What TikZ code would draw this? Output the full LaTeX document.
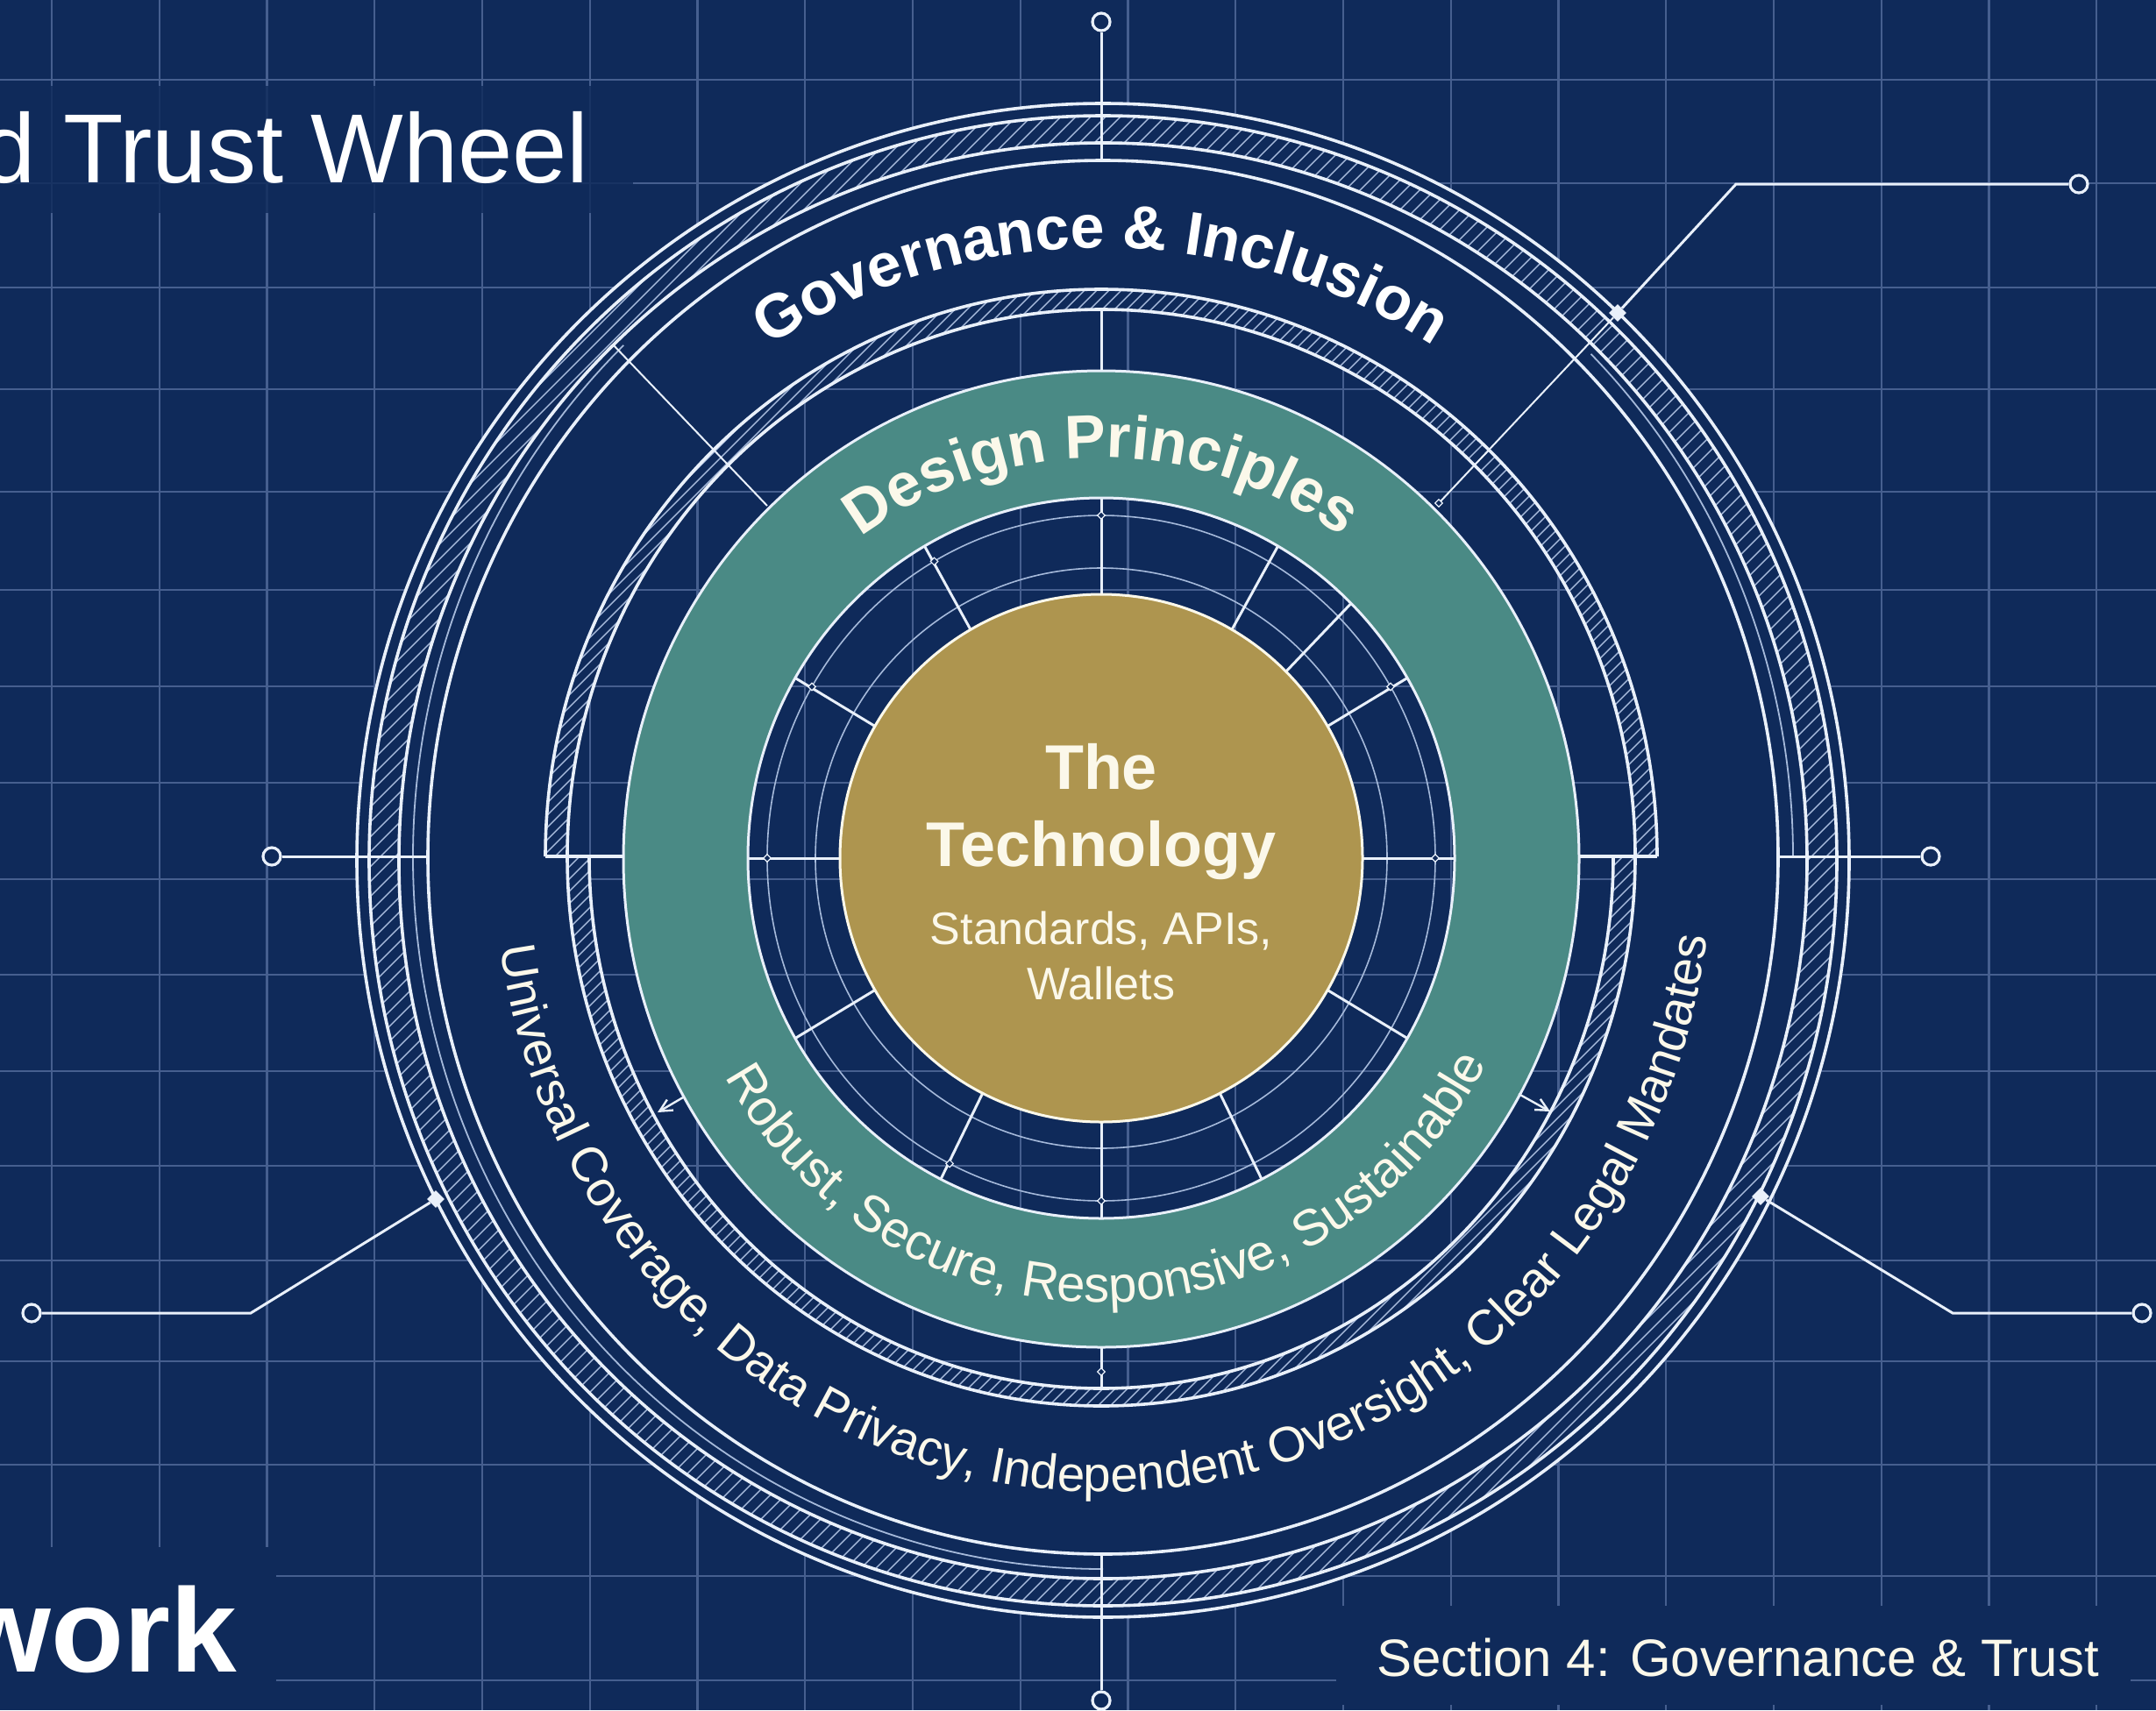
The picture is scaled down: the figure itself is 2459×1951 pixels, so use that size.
\documentclass[tikz,border=0pt]{standalone}
\usepackage{fontspec}
\setmainfont{Liberation Sans}
\usetikzlibrary{calc,decorations.text,shapes.geometric,arrows.meta}
\definecolor{navy}{HTML}{0F2A5A}
\definecolor{gridc}{HTML}{465F8F}
\definecolor{ringc}{HTML}{E9F0FA}
\definecolor{hatchc}{HTML}{A5B9DA}
\definecolor{tealc}{HTML}{4A8A85}
\definecolor{goldc}{HTML}{AE954F}
\definecolor{creamc}{HTML}{FBF8EA}
\newcommand{\fs}[1]{\fontsize{#1}{#1}\selectfont}
\newcommand{\ringhatch}[7]{%
  \begin{scope}[even odd rule]
  \clip (#1,#2) ellipse[x radius=#3,y radius=#4] (#1,#2) ellipse[x radius=#5,y radius=#6];
  \path[hatchline] \foreach \k in {-2000,#7,...,3600}{(\k,-2000) -- ++(2100,2100)};
  \end{scope}
}
\tikzset{
  gridline/.style={gridc,line width=2.2pt},
  ringthick/.style={ringc,line width=3.6pt},
  ringthin/.style={hatchc,line width=1.8pt},
  hatchline/.style={draw=hatchc,line width=1.4pt},
  spokeline/.style={ringc,line width=3pt},
  thinspoke/.style={ringc,line width=2pt},
  leaderline/.style={ringc,line width=3pt},
  terminal/.style={circle,draw=ringc,fill=navy,line width=3.2pt,minimum size=20pt,inner sep=0pt},
  endmark/.style={diamond,fill=ringc,minimum size=20pt,inner sep=0pt},
  tickmark/.style={diamond,draw=ringc,fill=navy,line width=1.2pt,minimum size=9pt,inner sep=0pt},
  arrowline/.style={ringc,line width=2.4pt,-{Straight Barb[length=14pt,width=14pt]}},
  label/.style={inner sep=0pt,text=creamc},
}
\begin{document}
\begin{tikzpicture}[x=1pt,y=1pt]
\useasboundingbox (0,0) rectangle (2459,-1951);
\fill[navy] (0,0) rectangle (2459,-1951);
% grid
\foreach \k in {0,...,19}{\draw[gridline] ({59+122.75*\k},0) -- ({59+122.75*\k},-1951);}
\foreach \y in {91,209,328,444,561,673,783,893,1003,1112,1222,1330,1438,1553,1671,1798,1917}{\draw[gridline] (0,-\y) -- (2459,-\y);}
% panels behind the page texts
\fill[navy,opacity=.82] (0,-98) rectangle (722,-243);
\fill[navy] (0,-1765) rectangle (315,-1951);
\fill[navy] (1524,-1832) rectangle (2430,-1945);
% centres
\coordinate (C) at (1256,-979);
% navy body of the outer wheel (grid stays visible inside the middle ring)
\fill[navy,even odd rule] (1258,-981.5) ellipse[x radius=851,y radius=863.5]
  (1865,-977) arc[start angle=0,end angle=180,x radius=609,y radius=627]
  -- (672,-977) arc[start angle=180,end angle=360,x radius=584,y radius=607] -- cycle;
% hatching
\ringhatch{1258}{-982}{837}{850}{803}{819}{-1983}
\begin{scope}\clip (0,-977) rectangle (2459,0);\ringhatch{1256}{-977}{634}{647}{609}{624}{-1986}\end{scope}
\begin{scope}\clip (0,-977) rectangle (2459,-1951);\ringhatch{1256}{-977}{609}{627}{584}{607}{-1986}\end{scope}
% outer rings
\draw[ringthick] (1258,-981.5) ellipse[x radius=851,y radius=863.5];
\draw[ringthick] (1258,-982) ellipse[x radius=837,y radius=850];
\draw[ringthick] (1258,-982) ellipse[x radius=803,y radius=819];
\draw[ringthick] (1258,-978) ellipse[x radius=770,y radius=795];
\draw[ringthin] (2045,-978) arc[start angle=0,end angle=45,x radius=787,y radius=812];
\draw[ringthin] ($(1258,-978)+(134:787 and 812)$) arc[start angle=134,end angle=270,x radius=787,y radius=812];
% middle hatched ring
\draw[ringthick] (1890,-977) arc[start angle=0,end angle=180,x radius=634,y radius=647];
\draw[ringthick] (1865,-977) arc[start angle=0,end angle=180,x radius=609,y radius=624];
\draw[ringthick] (1865,-977) arc[start angle=0,end angle=-180,x radius=609,y radius=627];
\draw[ringthick] (1840,-977) arc[start angle=0,end angle=-180,x radius=584,y radius=607];
% teal ring and gold core
\fill[tealc,even odd rule] (1256,-980) ellipse[x radius=545,y radius=557] (C) ellipse[x radius=403,y radius=411];
\draw[ringc,line width=3pt] (1256,-980) ellipse[x radius=545,y radius=557];
\draw[ringc,line width=3pt] (C) ellipse[x radius=403,y radius=411];
\draw[hatchc,line width=1.6pt] (C) ellipse[x radius=381,y radius=391];
\draw[hatchc,line width=1.6pt] (C) ellipse[x radius=326,y radius=331];
% inner spokes
\foreach \a in {30,45,60,90,120,150,180,210,243,270,297,330,0}{
  \coordinate (ga\a) at ($(C)+(\a:298 and 301)$);
  \coordinate (ta\a) at ($(C)+(\a:403 and 411)$);
  \draw[spokeline] (ga\a) -- (ta\a);
}
\fill[goldc] (C) ellipse[x radius=298,y radius=301];
\draw[creamc,line width=3pt] (C) ellipse[x radius=298,y radius=301];
\foreach \a in {0,30,90,120,150,180,243,270}{
  \node[tickmark] (tk\a) at ($(C)+(\a:381 and 391)$) {};
}
% terminals
\node[terminal] (tTop) at (1256,-25) {};
\node[terminal] (tBottom) at (1256,-1940) {};
\node[terminal] (tLeft) at (310,-977) {};
\node[terminal] (tRight) at (2202,-977) {};
\node[terminal] (tUR) at (2371,-210) {};
\node[terminal] (tLL) at (36,-1498) {};
\node[terminal] (tLR) at (2443,-1498) {};
% cardinal leaders
\coordinate (rTop) at (1256,-183);
\coordinate (rBottom) at (1256,-1773);
\coordinate (rLeft) at (488,-977);
\coordinate (rRight) at (2028,-977);
\draw[leaderline] (tTop) -- (rTop);
\draw[leaderline] (tBottom) -- (rBottom);
\draw[leaderline] (tLeft) -- (rLeft);
\draw[leaderline] (tRight) -- (rRight);
% base lines and short spokes of the middle ring
\coordinate (mTop) at (1256,-353);
\coordinate (tTopE) at (1256,-423);
\coordinate (mBot) at (1256,-1584);
\coordinate (tBotE) at (1256,-1537);
\coordinate (bR) at (1801,-977);
\coordinate (bL) at (711,-977);
\draw[spokeline] (mTop) -- (tTopE);
\draw[spokeline] (tBotE) -- (mBot);
\node[tickmark] (tkBot) at (1256,-1565) {};
\draw[ringthick] (1890,-977) -- (bR);
\draw[ringthick] (622,-977) -- (bL);
% diagonal leaders
\coordinate (cUR) at (1980,-210);
\coordinate (cLL) at (286,-1498);
\coordinate (cLR) at (2227,-1498);
\node[endmark] (dUR) at (1845,-357) {};
\node[endmark] (dLL) at (497,-1368) {};
\node[endmark] (dLR) at (2008,-1365) {};
\node[tickmark] (eUR) at (1641,-574) {};
\draw[leaderline] (tUR) -- (cUR) -- (dUR);
\draw[leaderline] (tLL) -- (cLL) -- (dLL);
\draw[leaderline] (tLR) -- (cLR) -- (dLR);
\draw[thinspoke] (dUR) -- (eUR);
\coordinate (ulA) at (699,-393);
\coordinate (ulB) at (875,-577);
\draw[thinspoke] (ulA) -- (ulB);
% small arrows under the teal ring
\coordinate (aLs) at (779,-1252);
\coordinate (aLe) at (750,-1269);
\coordinate (aRs) at (1732,-1248);
\coordinate (aRe) at (1768,-1268);
\draw[arrowline] (aLs) -- (aLe);
\draw[arrowline] (aRs) -- (aRe);
% curved labels
\path[decorate,decoration={text along path,text align=center,
  text={|\fs{70}\bfseries\color{white}|Governance {\&} Inclusion}}]
  ($(1256,-980)+(133:697 and 697)$) arc[start angle=133,end angle=47,x radius=697,y radius=697];
\path[decorate,decoration={text along path,text align=center,
  text={|\fs{70}\bfseries\color{creamc}|Design Principles}}]
  ($(1256,-980)+(135:458 and 458)$) arc[start angle=135,end angle=45,x radius=458,y radius=458];
\path[decorate,decoration={text along path,text align=center,
  text={|\fs{58}\color{creamc}|Robust, Secure, Responsive, Sustainable}}]
  ($(1257,-980)+(195:494 and 506)$) arc[start angle=195,end angle=347,x radius=494,y radius=506];
\path[decorate,decoration={text along path,text align=center,
  text={|\fs{56.5}\color{creamc}|Universal Coverage, Data Privacy, Independent Oversight, Clear Legal Mandates}}]
  ($(1258,-980)+(178:694 and 722)$) arc[start angle=178,end angle=363,x radius=694,y radius=722];
% core labels
\node[label,anchor=base] (coreA) at (1256,-900) {\fs{72}\bfseries The};
\node[label,anchor=base] (coreB) at (1256,-988) {\fs{72}\bfseries Technology};
\node[label,anchor=base] (coreC) at (1256,-1077) {\fs{52}Standards, APIs,};
\node[label,anchor=base] (coreD) at (1256,-1140) {\fs{52}Wallets};
% page labels
\node[label,text=white,anchor=base east] (title) at (672,-208) {\fs{112}d Trust Wheel};
\node[label,text=white,anchor=base east] (foot) at (270,-1907) {\fs{136}\bfseries work};
\node[label,anchor=base east] (sect) at (2394,-1912) {\fs{60}Section 4: Governance \& Trust};
\end{tikzpicture}
\end{document}
